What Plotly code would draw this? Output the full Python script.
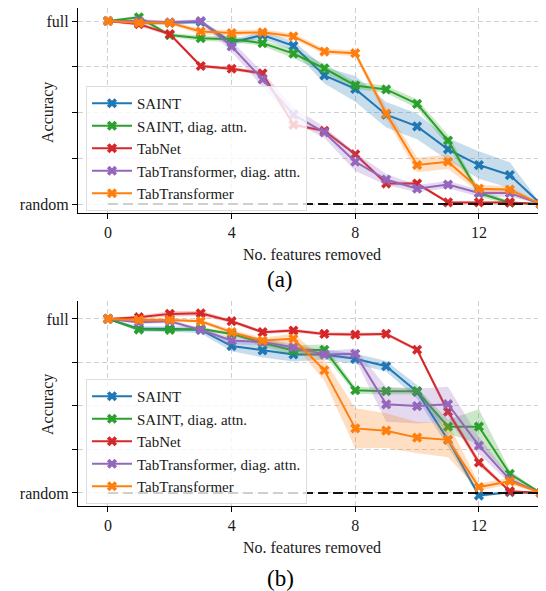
import plotly.graph_objects as go

x_vals = list(range(15))
names = ["SAINT", "SAINT, diag. attn.", "TabNet", "TabTransformer, diag. attn.", "TabTransformer"]
colors = ["#1f77b4", "#2ca02c", "#d62728", "#9467bd", "#ff7f0e"]
band_colors = ["rgba(31,119,180,0.25)", "rgba(44,160,44,0.25)", "rgba(214,39,40,0.25)",
               "rgba(148,103,189,0.25)", "rgba(255,127,14,0.25)"]

# Panel (a)
a_saint = [1.0, 0.99, 0.99, 0.995, 0.883, 0.923, 0.864, 0.703, 0.629, 0.488, 0.424, 0.299, 0.213, 0.158, 0.0]
a_saint_diag = [1.0, 1.02, 0.923, 0.906, 0.90, 0.879, 0.822, 0.741, 0.648, 0.626, 0.547, 0.347, 0.06, 0.007, 0.0]
a_tabnet = [1.0, 0.983, 0.928, 0.754, 0.739, 0.714, 0.433, 0.40, 0.272, 0.112, 0.112, 0.009, 0.009, 0.009, 0.0]
a_tt_diag = [1.0, 1.0, 0.993, 1.0, 0.861, 0.681, 0.488, 0.391, 0.231, 0.134, 0.084, 0.106, 0.06, 0.06, 0.0]
a_tt = [1.0, 0.99, 0.99, 0.943, 0.934, 0.938, 0.916, 0.833, 0.824, 0.494, 0.213, 0.231, 0.084, 0.079, 0.0]

a_saint_sd = [0.005, 0.01, 0.01, 0.01, 0.015, 0.02, 0.025, 0.045, 0.07, 0.07, 0.07, 0.06, 0.075, 0.07, 0.0]
a_saint_diag_sd = [0.005, 0.01, 0.01, 0.015, 0.015, 0.015, 0.025, 0.025, 0.02, 0.02, 0.025, 0.03, 0.02, 0.01, 0.0]
a_tabnet_sd = [0.005, 0.01, 0.01, 0.01, 0.01, 0.01, 0.01, 0.01, 0.01, 0.01, 0.01, 0.005, 0.005, 0.005, 0.0]
a_tt_diag_sd = [0.005, 0.01, 0.01, 0.01, 0.03, 0.04, 0.04, 0.03, 0.05, 0.03, 0.02, 0.02, 0.02, 0.02, 0.0]
a_tt_sd = [0.005, 0.01, 0.01, 0.015, 0.015, 0.015, 0.015, 0.015, 0.015, 0.03, 0.04, 0.04, 0.02, 0.02, 0.0]

# Panel (b)
b_saint = [1.0, 0.943, 0.943, 0.937, 0.844, 0.819, 0.796, 0.796, 0.771, 0.728, 0.581, 0.305, -0.015, 0.004, 0.0]
b_saint_diag = [1.0, 0.939, 0.937, 0.943, 0.914, 0.863, 0.819, 0.823, 0.59, 0.585, 0.585, 0.381, 0.381, 0.11, 0.0]
b_tabnet = [1.0, 1.01, 1.029, 1.032, 0.987, 0.924, 0.933, 0.914, 0.91, 0.914, 0.823, 0.467, 0.175, 0.01, 0.0]
b_tt_diag = [1.0, 0.981, 0.987, 0.937, 0.876, 0.867, 0.838, 0.796, 0.80, 0.509, 0.499, 0.51, 0.272, 0.076, 0.0]
b_tt = [1.0, 0.994, 0.994, 0.987, 0.924, 0.876, 0.886, 0.705, 0.371, 0.358, 0.318, 0.305, 0.034, 0.067, 0.0]

b_saint_sd = [0.005, 0.015, 0.015, 0.02, 0.03, 0.04, 0.04, 0.03, 0.03, 0.03, 0.04, 0.04, 0.01, 0.005, 0.0]
b_saint_diag_sd = [0.005, 0.01, 0.01, 0.01, 0.01, 0.02, 0.03, 0.03, 0.02, 0.02, 0.02, 0.04, 0.1, 0.02, 0.0]
b_tabnet_sd = [0.005, 0.01, 0.015, 0.015, 0.01, 0.01, 0.01, 0.01, 0.01, 0.01, 0.01, 0.02, 0.02, 0.005, 0.0]
b_tt_diag_sd = [0.005, 0.01, 0.01, 0.01, 0.02, 0.02, 0.02, 0.02, 0.03, 0.1, 0.1, 0.1, 0.05, 0.02, 0.0]
b_tt_sd = [0.005, 0.01, 0.01, 0.01, 0.015, 0.015, 0.03, 0.06, 0.115, 0.1, 0.09, 0.1, 0.02, 0.02, 0.0]

x_ticks = [0, 4, 8, 12]
y_tickvals = [0, 0.25, 0.5, 0.75, 1.0]
y_ticktext = ["random", "", "", "", "full"]

panels = [
    ([a_saint, a_saint_diag, a_tabnet, a_tt_diag, a_tt],
     [a_saint_sd, a_saint_diag_sd, a_tabnet_sd, a_tt_diag_sd, a_tt_sd], "x", "y", "legend"),
    ([b_saint, b_saint_diag, b_tabnet, b_tt_diag, b_tt],
     [b_saint_sd, b_saint_diag_sd, b_tabnet_sd, b_tt_diag_sd, b_tt_sd], "x2", "y2", "legend2"),
]

FONT = "'Liberation Serif', 'Times New Roman', serif"
fig = go.Figure()

for series, sds, xa, ya, leg in panels:
    for name, col, bcol, ys, sd in zip(names, colors, band_colors, series, sds):
        upper = [v + s for v, s in zip(ys, sd)]
        lower = [v - s for v, s in zip(ys, sd)]
        fig.add_trace(go.Scatter(
            x=x_vals + x_vals[::-1], y=upper + lower[::-1], fill="toself",
            fillcolor=bcol, line=dict(width=0), mode="lines", hoverinfo="skip",
            showlegend=False, xaxis=xa, yaxis=ya, legendgroup=name + leg))
        fig.add_trace(go.Scatter(
            x=x_vals, y=ys, name=name, mode="lines+markers",
            line=dict(color=col, width=2),
            marker=dict(symbol="x", size=9, color=col),
            xaxis=xa, yaxis=ya, legend=leg, legendgroup=name + leg))
    fig.add_trace(go.Scatter(
        x=[x_vals[0], x_vals[-1]], y=[0, 0], mode="lines",
        line=dict(color="#111111", width=2, dash="10px,5px"), showlegend=False,
        xaxis=xa, yaxis=ya, hoverinfo="skip"))

# The page body adds an 8px offset; the figure is sized to fill the rest of the window.
OFF = 8
W, H = 546 - OFF, 591 - OFF
L = 78 - OFF
PW = W - L

def py(p):
    """reference pixel row -> paper y"""
    return 1 - (p - OFF) / H

def px(p):
    """reference pixel column -> paper x"""
    return (p - OFF - L) / PW

TXT = "#1a1a1a"
axis_common = dict(
    showline=True, linecolor="black", linewidth=1.2, ticks="outside", ticklen=5,
    tickcolor="black", showgrid=True, gridcolor="#d0d0d0", griddash="5px,3px",
    gridwidth=1, zeroline=False, tickfont=dict(family=FONT, size=16, color=TXT),
    mirror=False, automargin=False)

xaxis_cfg = dict(axis_common, range=[-0.97, 14.17], tickvals=x_ticks,
                 title=dict(text="No. features removed", font=dict(family=FONT, size=16, color=TXT), standoff=8))
yaxis_cfg = dict(axis_common, tickvals=y_tickvals, ticktext=y_ticktext)

legend_cfg = dict(font=dict(family=FONT, size=15, color=TXT), bgcolor="rgba(255,255,255,0.8)",
                  bordercolor="#dddddd", borderwidth=1, xanchor="left", yanchor="top",
                  tracegroupgap=0, itemwidth=40)

ann_font = dict(family=FONT, size=16, color=TXT)
fig.update_layout(
    width=W, height=H, plot_bgcolor="white", paper_bgcolor="white",
    margin=dict(l=L, r=0, t=0, b=0),
    xaxis=dict(xaxis_cfg, domain=[0, 1], anchor="y"),
    yaxis=dict(yaxis_cfg, domain=[py(213), 1], range=[-0.049, 1.071], anchor="x"),
    xaxis2=dict(xaxis_cfg, domain=[0, 1], anchor="y2"),
    yaxis2=dict(yaxis_cfg, domain=[py(506), py(301)], range=[-0.075, 1.103], anchor="x2"),
    legend=dict(legend_cfg, x=px(86), y=py(86)),
    legend2=dict(legend_cfg, x=px(86), y=py(379)),
    annotations=[
        dict(text="Accuracy", x=px(48), y=py(113), xref="paper", yref="paper", showarrow=False,
             textangle=-90, font=ann_font, xanchor="center", yanchor="middle"),
        dict(text="Accuracy", x=px(48), y=py(405), xref="paper", yref="paper", showarrow=False,
             textangle=-90, font=ann_font, xanchor="center", yanchor="middle"),
        dict(text="(a)", x=px(280), y=py(279), xref="paper", yref="paper", showarrow=False,
             font=dict(family=FONT, size=23, color="black"), yanchor="middle"),
        dict(text="(b)", x=px(280), y=py(578), xref="paper", yref="paper", showarrow=False,
             font=dict(family=FONT, size=23, color="black"), yanchor="middle"),
    ],
)

fig.write_html("out.html")
